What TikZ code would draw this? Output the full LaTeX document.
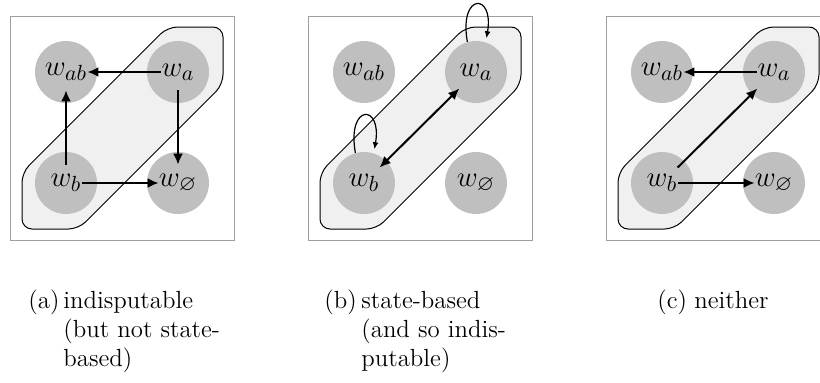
\documentclass[tikz,border=0pt]{standalone}
\usepackage{amssymb}
\usetikzlibrary{arrows.meta}

\tikzset{
  panel/.style={draw=gray!75, line width=0.5pt},
  region/.style={draw=black, fill=gray!12, line width=0.5pt, rounded corners=5pt},
  world/.style={circle, fill=gray!50, minimum size=31pt, inner sep=0pt},
  wname/.style={inner sep=0pt, minimum height=18pt, font=\fontsize{15.5}{19}\selectfont},
  rel/.style={line width=1pt, -{Latex[length=5.5pt,width=5pt]}},
  self/.style={line width=0.6pt, -{Latex[length=3.5pt,width=3pt]}, shorten >=2pt},
  caption/.style={inner sep=0pt, align=left, font=\fontsize{12.4}{14.5}\selectfont},
}

\begin{document}
\begin{tikzpicture}[x=0.5pt, y=0.5pt]
  \useasboundingbox (0,0) rectangle (820,382);
  \foreach \i/\x in {1/10, 2/308, 3/606} {
    \begin{scope}[shift={(\x,142)}]
      \draw[panel] (0,0) rectangle (224,224);
      \draw[region] (12,67.5) -- (157.5,213) -- (213,213) -- (213,155.5)
        -- (68.5,11) -- (12,11) -- cycle;
      \node[world] (ab\i) at (56,168) {};
      \node[world] (a\i) at (168,168) {};
      \node[world] (b\i) at (56,57) {};
      \node[world] (n\i) at (168,57) {};
      \node[wname] (tab\i) at (ab\i) {$w_{ab}$};
      \node[wname] (ta\i) at (a\i) {$w_{a}$};
      \node[wname] (tb\i) at (b\i) {$w_{b}$};
      \node[wname] (tn\i) at (n\i) {$w_{\varnothing}$};
    \end{scope}
  }

  \draw[rel] (ta1) -- (tab1);
  \draw[rel] (ta1) -- (tn1);
  \draw[rel] (tb1) -- (tab1);
  \draw[rel] (tb1) -- (tn1);

  \draw[rel, {Latex[length=5.5pt,width=5pt]}-{Latex[length=5.5pt,width=5pt]}] (ta2) -- (tb2);
  \draw[self] (a2.106) to[out=100, in=80, looseness=7] (a2.72);
  \draw[self] (b2.106) to[out=100, in=80, looseness=7] (b2.72);

  \draw[rel] (ta3) -- (tab3);
  \draw[rel] (tb3) -- (ta3);
  \draw[rel] (tb3) -- (tn3);

  \node[caption, anchor=base west] (la) at (28,74) {(a)};
  \node[caption, anchor=base west] (ca) at (63,16) {indisputable\\(but not state-\\based)};
  \node[caption, anchor=base west] (lb) at (324,74) {(b)};
  \node[caption, anchor=base west] (cb) at (361,16) {state-based\\(and so indis-\\putable)};
  \node[caption, anchor=base west] (lc) at (657,74) {(c)};
  \node[caption, anchor=base west] (cc) at (694,74) {neither};
\end{tikzpicture}
\end{document}
